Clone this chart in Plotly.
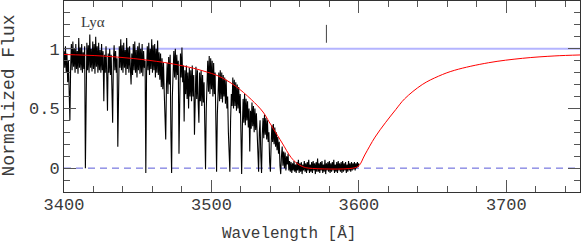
import plotly.graph_objects as go

spec_start = 3400.0
spec_step = 0.5
spec_flux = [
    0.98, 0.84, 1.02, 0.80, 0.96, 0.72, 0.90, 0.62, 0.40, 0.84,    # 3400.0
    1.04, 0.82, 1.06, 0.85, 1.00, 0.80, 1.04, 0.83, 0.98, 0.79,    # 3405.0
    1.09, 0.84, 1.01, 0.82, 1.04, 0.80, 0.97, 0.83, 1.02, 0.00,    # 3410.0
    0.86, 1.05, 0.82, 1.03, 0.80, 1.12, 0.84, 1.00, 0.81, 1.06,    # 3415.0
    0.83, 1.04, 0.79, 1.10, 0.85, 1.02, 0.80, 1.05, 0.82, 0.99,    # 3420.0
    0.80, 1.04, 0.82, 0.98, 0.56, 0.95, 0.80, 1.02, 0.78, 0.48,    # 3425.0
    0.96, 0.80, 1.00, 0.78, 0.95, 0.60, 0.38, 0.90, 1.03, 0.82,    # 3430.0
    0.98, 0.80, 0.92, 0.18, 0.80, 1.02, 0.84, 1.08, 0.82, 1.03,    # 3435.0
    0.80, 1.05, 0.84, 0.99, 0.78, 1.09, 0.83, 1.01, 0.80, 1.02,    # 3440.0
    0.84, 0.70, 0.96, 0.78, 1.04, 0.82, 1.06, 0.80, 0.99, 0.76,    # 3445.0
    1.02, 0.82, 1.05, 0.79, 1.00, 0.80, 1.04, 0.77, 0.98, 0.84,    # 3450.0
    0.90, -0.04, 0.80, 1.02, 0.82, 1.05, 0.78, 1.00, 0.83, 1.08,   # 3455.0
    0.80, 1.03, 0.82, 1.04, 0.76, 1.00, 0.80, 1.07, 0.78, 0.97,    # 3460.0
    0.74, 0.96, 0.68, 0.92, 0.66, 0.88, 0.63, 0.40, 0.24, 0.70,    # 3465.0
    0.88, 0.62, 0.93, 0.70, 0.95, 0.30, -0.04, 0.60, 0.75, 0.98,   # 3470.0
    0.76, 1.00, 0.74, 0.95, 0.78, 0.90, 0.12, 0.80, 0.96, 0.76,    # 3475.0
    1.01, 0.72, 0.86, 0.39, 0.82, 0.62, 0.86, 0.58, 0.80, 0.50,    # 3480.0
    0.84, 0.60, 0.82, 0.56, 0.86, 0.60, 0.78, 0.28, 0.70, 0.85,    # 3485.0
    0.58, 0.82, 0.55, 0.38, 0.80, 0.56, 0.82, 0.52, 0.78, 0.55,    # 3490.0
    0.72, 0.40, -0.01, 0.50, 0.70, 0.90, 0.64, 0.94, 0.62, 0.92,   # 3495.0
    0.66, 0.90, 0.60, 0.88, 0.62, 0.80, 0.40, -0.03, 0.45, 0.60,   # 3500.0
    0.80, 0.56, 0.82, 0.58, 0.80, 0.55, 0.78, 0.60, 0.76, 0.54,    # 3505.0
    0.74, 0.50, 0.60, 0.30, 0.10, -0.03, 0.40, 0.62, 0.52, 0.76,   # 3510.0
    0.50, 0.74, 0.52, 0.72, 0.48, 0.70, 0.50, 0.68, 0.46, 0.62,    # 3515.0
    0.30, -0.05, 0.35, 0.58, 0.38, 0.62, 0.36, 0.58, 0.40, 0.56,   # 3520.0
    0.34, 0.50, 0.14, 0.48, 0.33, 0.55, 0.35, 0.52, 0.30, 0.50,    # 3525.0
    0.32, 0.46, 0.30, 0.10, -0.03, 0.30, 0.40, 0.10, -0.04, 0.28,  # 3530.0
    0.42, 0.25, 0.45, 0.28, 0.42, 0.24, 0.40, 0.22, 0.30, 0.05,    # 3535.0
    -0.03, 0.20, 0.36, 0.22, 0.37, 0.20, 0.34, 0.18, 0.30, 0.15,   # 3540.0
    0.26, 0.12, 0.22, 0.02, -0.05, 0.10, 0.18, 0.02, 0.14, 0.00,   # 3545.0
    0.13, -0.02, 0.10, 0.03, 0.12, -0.02, 0.06,                    # 3550.0
    -0.03, 0.05, -0.04, 0.04, -0.02, 0.06, -0.03, 0.03, -0.04, 0.05,   # 3553.5
    -0.02, 0.07, -0.04, 0.04, -0.03, 0.05, -0.05, 0.03, -0.02, 0.06,   # 3558.5
    -0.03, 0.04, -0.04, 0.05, -0.02, 0.07, -0.04, 0.03, -0.03, 0.05,   # 3563.5
    -0.04, 0.06, -0.02, 0.04, -0.05, 0.05, -0.03, 0.08, -0.03, 0.04,   # 3568.5
    -0.04, 0.05, -0.02, 0.06, -0.04, 0.03, -0.03, 0.07, -0.05, 0.04,   # 3573.5
    -0.02, 0.05, -0.03, 0.06, -0.04, 0.04, -0.03, 0.05, -0.02, 0.07,   # 3578.5
    -0.04, 0.03, -0.03, 0.05, -0.04, 0.06, -0.02, 0.04, -0.03, 0.05,   # 3583.5
    -0.04, 0.06, -0.03, 0.04, -0.02, 0.05, -0.04, 0.03, -0.03, 0.06,   # 3588.5
    -0.02, 0.04, -0.03, 0.05, -0.02, 0.04, -0.01, 0.05, -0.02, 0.04,   # 3593.5
    0.00, 0.05, 0.01, 0.04,                                            # 3598.5
]
spec_wave = [spec_start + spec_step * i for i in range(len(spec_flux))]

# Damped Lyman-alpha model profile
model_wave = [3400, 3425, 3447, 3468, 3485, 3495, 3505, 3516, 3527, 3535,
              3539, 3542, 3548, 3554, 3558, 3562, 3566, 3596, 3600, 3604,
              3611, 3618, 3625, 3631, 3643, 3654, 3665, 3688, 3711, 3733, 3750]
model_flux = [0.952, 0.940, 0.918, 0.885, 0.845, 0.812, 0.770, 0.690, 0.575, 0.470,
              0.390, 0.330, 0.210, 0.090, 0.040, 0.012, 0.000, 0.000, 0.020, 0.110,
              0.260, 0.380, 0.490, 0.580, 0.700, 0.770, 0.820, 0.883, 0.920, 0.940, 0.948]

continuum_wave = [3400, 3750]
continuum_flux = [1.0, 1.0]
zero_wave = [3400, 3750]
zero_flux = [0.0, 0.0]
marker_wave = [3578, 3578]
marker_flux = [1.05, 1.20]

x_ticks = [3400, 3500, 3600, 3700]
y_ticks = [0, 0.5, 1]
y_tick_text = ["0", "0.5", "1"]

FONT = "Liberation Mono"
TXT = "#3a3a3a"

fig = go.Figure()
fig.add_trace(go.Scatter(x=continuum_wave, y=continuum_flux, mode="lines",
                         line=dict(color="#b4b4ff", width=2), hoverinfo="skip"))
fig.add_trace(go.Scatter(x=zero_wave, y=zero_flux, mode="lines",
                         line=dict(color="#5a5ad8", width=1, dash="7px,5px"), hoverinfo="skip"))
fig.add_trace(go.Scatter(x=spec_wave, y=spec_flux, mode="lines",
                         line=dict(color="black", width=1.1)))
fig.add_trace(go.Scatter(x=model_wave, y=model_flux, mode="lines", line_shape="spline",
                         line=dict(color="#ff0000", width=1)))
fig.add_trace(go.Scatter(x=marker_wave, y=marker_flux, mode="lines",
                         line=dict(color="#444444", width=1), hoverinfo="skip"))

fig.add_annotation(x=3420, y=1.225, text="Ly\u03b1", showarrow=False,
                   font=dict(family="Liberation Serif", size=15, color=TXT))
fig.add_annotation(xref="paper", yref="paper", x=0.437, y=-0.22, xanchor="center", yanchor="middle",
                   text="Wavelength [\u00c5]", showarrow=False,
                   font=dict(family=FONT, size=16, color=TXT))
fig.add_annotation(xref="paper", yref="paper", x=-0.1076, y=0.508, xanchor="center", yanchor="middle",
                   text="Normalized Flux", showarrow=False, textangle=-90,
                   font=dict(family=FONT, size=18, color=TXT))

axis_common = dict(showline=True, linecolor="#333333", linewidth=1, mirror="allticks",
                   ticks="inside", tickcolor="#555555", showgrid=False, zeroline=False,
                   tickfont=dict(family=FONT, size=17, color=TXT))

fig.update_xaxes(range=[3400, 3750], tickvals=x_ticks, ticklen=12, ticklabelstandoff=-3,
                 minor=dict(dtick=20, tick0=3400, ticklen=6, ticks="inside", tickcolor="#555555"),
                 **axis_common)
fig.update_yaxes(range=[-0.2, 1.4], tickvals=y_ticks, ticktext=y_tick_text, ticklen=12,
                 minor=dict(dtick=0.1, tick0=0, ticklen=6, ticks="inside", tickcolor="#555555"),
                 **axis_common)

fig.update_layout(width=581, height=252, margin=dict(l=64, r=1, t=1, b=60, autoexpand=False),
                  plot_bgcolor="white", paper_bgcolor="white", showlegend=False)

fig.write_html("out.html", config={"displayModeBar": False},
               post_script="document.body.style.margin='0';")
